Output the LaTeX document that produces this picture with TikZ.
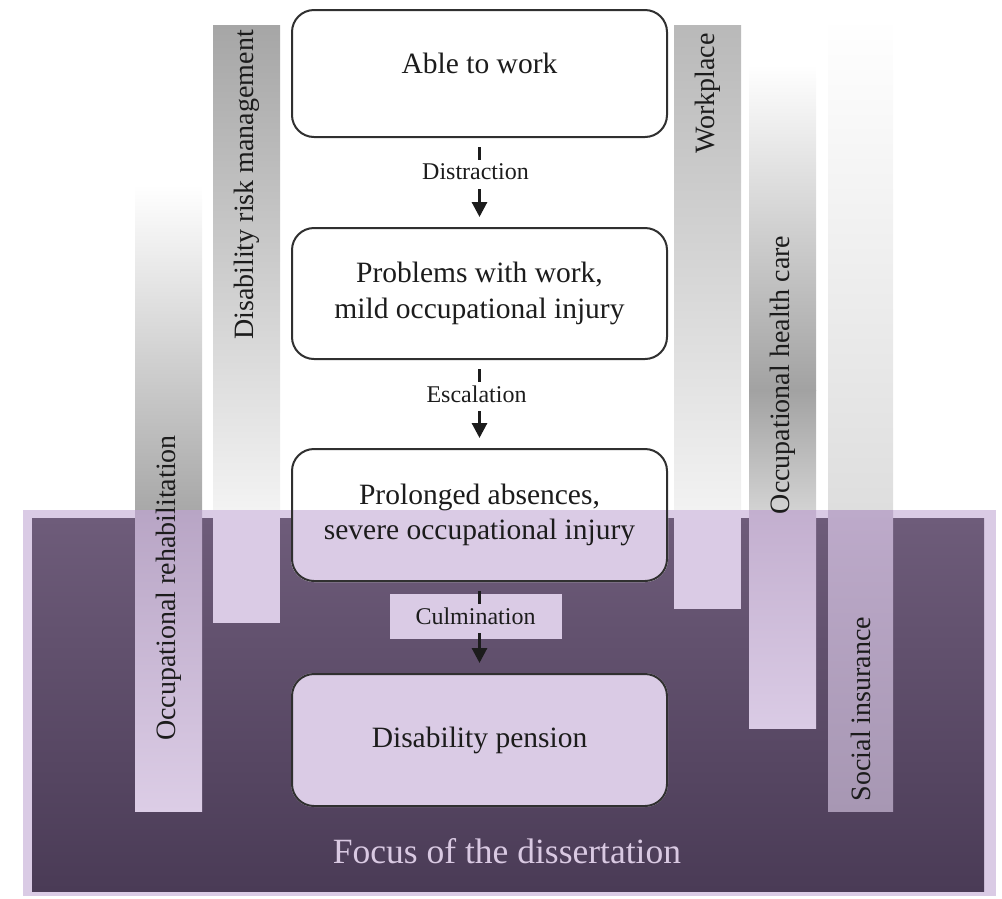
\documentclass[tikz,border=0pt]{standalone}
\usepackage{fontspec}
\setmainfont{Liberation Serif}
\usetikzlibrary{arrows.meta,calc}

% palette
\definecolor{lilac}{HTML}{DACBE5}
\definecolor{plumtop}{HTML}{6E5C7A}
\definecolor{plumbot}{HTML}{4A3B56}
\definecolor{ink}{HTML}{1C1C1C}
\definecolor{boxline}{HTML}{303030}
\definecolor{focustext}{HTML}{D9C9E2}
% bar shades
\definecolor{orGray}{HTML}{A8A8A8}
\definecolor{orTop}{HTML}{B8A5C5}
\definecolor{orBot}{HTML}{DCCDE6}
\definecolor{drmGray}{HTML}{A6A6A6}
\definecolor{drmLow}{HTML}{F3F3F3}
\definecolor{wpGray}{HTML}{B9B9B9}
\definecolor{wpLow}{HTML}{F2F2F2}
\definecolor{ohcMid}{HTML}{A2A2A2}
\definecolor{ohcLow}{HTML}{D2D2D2}
\definecolor{ohcTop}{HTML}{C3AFCF}
\definecolor{siLow}{HTML}{DEDEDE}
\definecolor{siTop}{HTML}{BDAACA}
\definecolor{siBot}{HTML}{A797B3}

\pgfdeclarelayer{bars}
\pgfdeclarelayer{boxfill}
\pgfsetlayers{bars,boxfill,main}

\begin{document}
\begin{tikzpicture}[x=1pt,y=-1pt,
  stage/.style={draw=boxline, line width=2pt, rounded corners=22pt,
    minimum width=375pt, align=center, text=ink,
    font=\fontsize{29.5}{35.5}\selectfont},
  bartext/.style={rotate=90, text=ink, inner sep=0pt,
    font=\fontsize{28}{33}\selectfont},
  steplabel/.style={text=ink, inner sep=0pt,
    font=\fontsize{24}{28}\selectfont},
  flow/.style={draw=ink, line width=3pt,
    -{Triangle[length=15pt,width=15pt]},
    shorten <=9pt, shorten >=10pt,
    dash pattern=on 13pt off 29pt on 400pt}
]
\useasboundingbox (0,0) rectangle (1002,898);

% ---------- stages ----------
\node[stage, minimum height=127pt, text depth=20pt] (b1) at (479.5,73.5) {Able to work};
\node[stage, minimum height=131pt] (b2) at (479.5,293.5) {Problems with work,\\mild occupational injury};
\node[stage, minimum height=132pt] (b3) at (479.5,515) {Prolonged absences,\\severe occupational injury};
\node[stage, minimum height=132pt] (b4) at (479.5,740) {Disability pension};

% ---------- actor bars and focus area ----------
\begin{pgfonlayer}{bars}
  % bars above the focus area
  \shade[top color=white, bottom color=orGray] (135,185) rectangle (202,510);
  \shade[top color=drmGray, bottom color=drmLow] (213,25) rectangle (280,510);
  \shade[top color=wpGray, bottom color=wpLow] (674,25) rectangle (741,510);
  \shade[top color=white, bottom color=ohcMid] (749,65) rectangle (816,390);
  \shade[top color=ohcMid, bottom color=ohcLow] (749,390) rectangle (816,510);
  \shade[top color=white, bottom color=siLow] (828,17) rectangle (893,510);
  % focus area: light frame and dark gradient panel
  \fill[lilac] (23,510) rectangle (996,896);
  \shade[top color=plumtop, bottom color=plumbot] (32,518) rectangle (984,891);
  % bars inside the focus area
  \shade[top color=orTop, bottom color=orBot] (135,510) rectangle (202,811);
  \fill[lilac] (213,510) rectangle (280,623);
  \fill[lilac] (674,510) rectangle (741,609);
  \shade[top color=ohcTop, bottom color=lilac] (749,510) rectangle (816,728);
  \shade[top color=siTop, bottom color=siBot] (828,510) rectangle (893,811);
\end{pgfonlayer}

% ---------- stage fills (white outside, lilac inside the focus area) ----------
\begin{pgfonlayer}{boxfill}
  \foreach \b in {b1,b2,b3}
    \fill[white, rounded corners=23pt] (\b.north west) rectangle (\b.south east);
  \begin{scope}
    \clip (23,510) rectangle (996,896);
    \foreach \b in {b3,b4}
      \fill[lilac, rounded corners=23pt] (\b.north west) rectangle (\b.south east);
  \end{scope}
\end{pgfonlayer}

% ---------- bar labels ----------
\node[bartext] (orLab)  at (168.5,588) {Occupational rehabilitation};
\node[bartext] (drmLab) at (246.5,185) {Disability risk management};
\node[bartext] (wpLab)  at (707.5,93.5) {Workplace};
\node[bartext] (ohcLab) at (782.5,375) {Occupational health care};
\node[bartext] (siLab)  at (860.5,709) {Social insurance};

% ---------- transitions ----------
\node[steplabel] (t1) at ($(b1.south)+(-4,34)$) {Distraction};
\draw[flow] (b1.south) -- (b2.north);
\node[steplabel] (t2) at ($(b2.south)+(-3,34)$) {Escalation};
\draw[flow] (b2.south) -- (b3.north);
\node[steplabel, fill=lilac, minimum width=172pt, minimum height=45pt] (t3) at ($(b3.south)+(-4,34)$) {Culmination};
\draw[flow] (b3.south) -- (b4.north);

% ---------- focus caption ----------
\node[text=focustext, font=\fontsize{35.5}{40}\selectfont] (focus) at (507,851) {Focus of the dissertation};
\end{tikzpicture}
\end{document}
